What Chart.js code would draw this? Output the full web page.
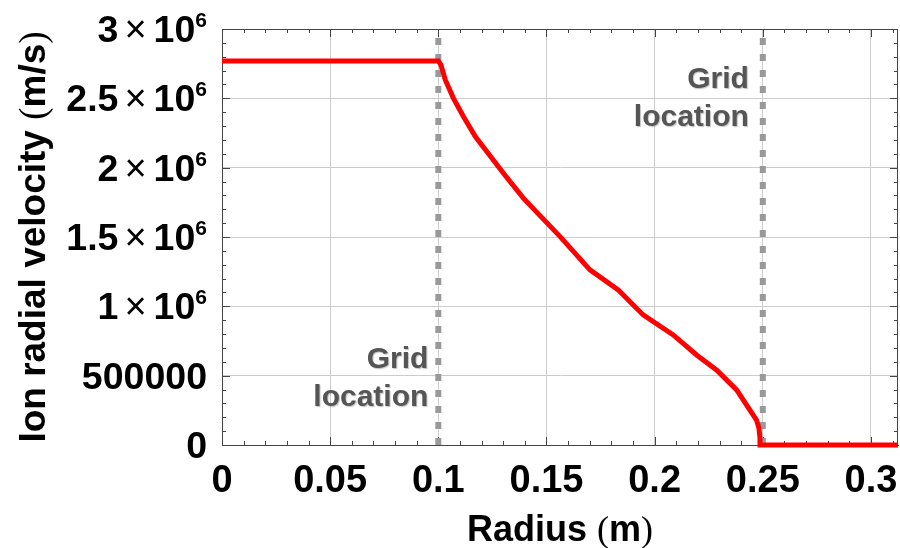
<!DOCTYPE html>
<html>
<head>
<meta charset="utf-8">
<script src="https://cdn.jsdelivr.net/npm/chart.js@4.4.1/dist/chart.umd.min.js"></script>
<style>
  html, body { margin: 0; padding: 0; background: #fff; }
</style>
</head>
<body>
<canvas id="chart" width="900" height="548"></canvas>
<script>
// radius (m) and ion radial velocity (m/s)
const radius = [0, 0.1, 0.1012, 0.1032, 0.107, 0.1116, 0.1171, 0.1224, 0.1301, 0.1393,
  0.1563, 0.1701, 0.1832, 0.1947, 0.2086, 0.2194, 0.2286, 0.2379, 0.2471, 0.2482,
  0.2487, 0.2487, 0.3125];
const velocity = [2770000, 2770000, 2742000, 2634000, 2500000, 2369000, 2224000, 2116000, 1960000, 1780000,
  1503000, 1263000, 1118000, 938000, 794000, 649000, 541000, 397000, 180000, 123000,
  50000, 0, 0];

// grid positions (dotted lines)
const gridRadius = [0.1, 0.25];
const gridText = ['Grid', 'location'];

const xMax = 0.3125;
const yMax = 3000000;
const xStep = 0.05;
const yStep = 500000;

const FONT = '"Liberation Sans", Arial, sans-serif';

function mixedText(ctx, parts, cx, base, size) {
  // parts: [text, bold]
  let w = 0;
  parts.forEach(p => {
    ctx.font = (p[1] ? 'bold ' : '') + size + 'px ' + (p[1] ? FONT : '"Liberation Serif", serif');
    w += ctx.measureText(p[0]).width;
  });
  let x = cx - w / 2;
  ctx.textAlign = 'left';
  parts.forEach(p => {
    ctx.font = (p[1] ? 'bold ' : '') + size + 'px ' + (p[1] ? FONT : '"Liberation Serif", serif');
    ctx.fillText(p[0], x, base);
    x += ctx.measureText(p[0]).width;
  });
}

function yLabel(ctx, v, right, py) {
  const base = py + 13;
  ctx.textAlign = 'right';
  ctx.textBaseline = 'alphabetic';
  ctx.font = 'bold 37.5px ' + FONT;
  if (v === 0 || v === 500000) {
    ctx.fillText(String(v), right, base);
    return;
  }
  let xr = right;
  ctx.font = 'bold 21px ' + FONT;
  ctx.fillText('6', xr, py - 2);
  xr -= ctx.measureText('6').width;
  ctx.font = 'bold 37.5px ' + FONT;
  ctx.fillText('10', xr, base);
  xr -= ctx.measureText('10').width + 7;
  ctx.font = '38px ' + FONT;
  ctx.fillText('\u00d7', xr, base);
  xr -= ctx.measureText('\u00d7').width + 6;
  ctx.font = 'bold 37.5px ' + FONT;
  ctx.fillText(String(v / 1e6), xr, base);
}

const decorations = {
  id: 'decorations',
  beforeDatasetsDraw(chart) {
    const { ctx, chartArea: a, scales: { x, y } } = chart;
    ctx.save();
    ctx.strokeStyle = '#444';
    ctx.lineWidth = 1;
    ctx.beginPath();
    ctx.moveTo(a.left, a.top + 0.5); ctx.lineTo(a.right, a.top + 0.5);
    ctx.moveTo(a.right - 0.5, a.top); ctx.lineTo(a.right - 0.5, a.bottom);
    for (let i = 0; i <= 31; i++) {
      const px = Math.round(x.getPixelForValue(i * 0.01)) + 0.5;
      const len = i % 5 === 0 ? 8 : 4;
      ctx.moveTo(px, a.bottom); ctx.lineTo(px, a.bottom - len);
      ctx.moveTo(px, a.top); ctx.lineTo(px, a.top + len);
    }
    for (let i = 0; i <= 30; i++) {
      const py = Math.round(y.getPixelForValue(i * 100000)) + 0.5;
      const len = i % 5 === 0 ? 8 : 4;
      ctx.moveTo(a.left, py); ctx.lineTo(a.left + len, py);
      ctx.moveTo(a.right, py); ctx.lineTo(a.right - len, py);
    }
    ctx.stroke();
    ctx.restore();
  },
  afterDraw(chart) {
    const { ctx, chartArea: a, scales: { x, y } } = chart;
    ctx.save();
    ctx.fillStyle = '#000';
    for (let v = 0; v <= yMax; v += yStep) {
      yLabel(ctx, v, 207, y.getPixelForValue(v));
    }
    // axis titles
    ctx.textBaseline = 'alphabetic';
    mixedText(ctx, [['Radius ', true], ['(', false], ['m', true], [')', false]], (a.left + a.right) / 2, 541, 36);
    ctx.translate(45, (a.top + a.bottom) / 2);
    ctx.rotate(-Math.PI / 2);
    mixedText(ctx, [['Ion radial velocity ', true], ['(', false], ['m/s', true], [')', false]], 0, 0, 37);
    ctx.restore();

    // "Grid location" notes
    ctx.save();
    ctx.font = 'bold 30px ' + FONT;
    ctx.fillStyle = '#555';
    ctx.textAlign = 'right';
    ctx.shadowColor = 'rgba(0,0,0,0.25)';
    ctx.shadowOffsetX = 1;
    ctx.shadowOffsetY = 1;
    ctx.shadowBlur = 1;
    const notes = [[gridRadius[0], 10, 368], [gridRadius[1], 14, 88]];
    notes.forEach(n => {
      const px = x.getPixelForValue(n[0]) - n[1];
      ctx.fillText(gridText[0], px, n[2]);
      ctx.fillText(gridText[1], px, n[2] + 38);
    });
    ctx.restore();
  }
};

const datasets = [{
  data: radius.map((r, i) => ({ x: r, y: velocity[i] })),
  borderColor: '#ff0000',
  borderWidth: 5,
  pointRadius: 0,
  tension: 0,
  clip: false
}];
gridRadius.forEach(g => {
  datasets.push({
    data: [{ x: g, y: 0 }, { x: g, y: yMax }],
    borderColor: '#999999',
    borderWidth: 6,
    borderDash: [7, 9],
    borderCapStyle: 'butt',
    pointRadius: 0
  });
});

new Chart(document.getElementById('chart'), {
  type: 'line',
  data: { datasets: datasets },
  options: {
    responsive: false,
    animation: false,
    layout: { padding: { top: 29, right: 2, left: 0, bottom: 0 } },
    plugins: { legend: { display: false }, tooltip: { enabled: false } },
    scales: {
      x: {
        type: 'linear',
        min: 0,
        max: xMax,
        afterFit: s => { s.height = 103; s.paddingLeft = 0; s.paddingRight = 0; },
        grid: { color: '#cccccc', lineWidth: 1, drawTicks: false },
        border: { display: true, color: '#444', width: 1 },
        ticks: {
          stepSize: xStep,
          includeBounds: false,
          autoSkip: false,
          maxRotation: 0,
          padding: 14,
          color: '#000',
          font: { family: FONT, size: 38, weight: 'bold' },
          callback: v => String(+v.toFixed(2))
        }
      },
      y: {
        min: 0,
        max: yMax,
        afterFit: s => { s.width = 222; s.paddingTop = 0; s.paddingBottom = 0; },
        grid: { color: '#cccccc', lineWidth: 1, drawTicks: false },
        border: { display: true, color: '#444', width: 1 },
        ticks: { stepSize: yStep, display: false }
      }
    }
  },
  plugins: [decorations]
});
</script>
</body>
</html>
